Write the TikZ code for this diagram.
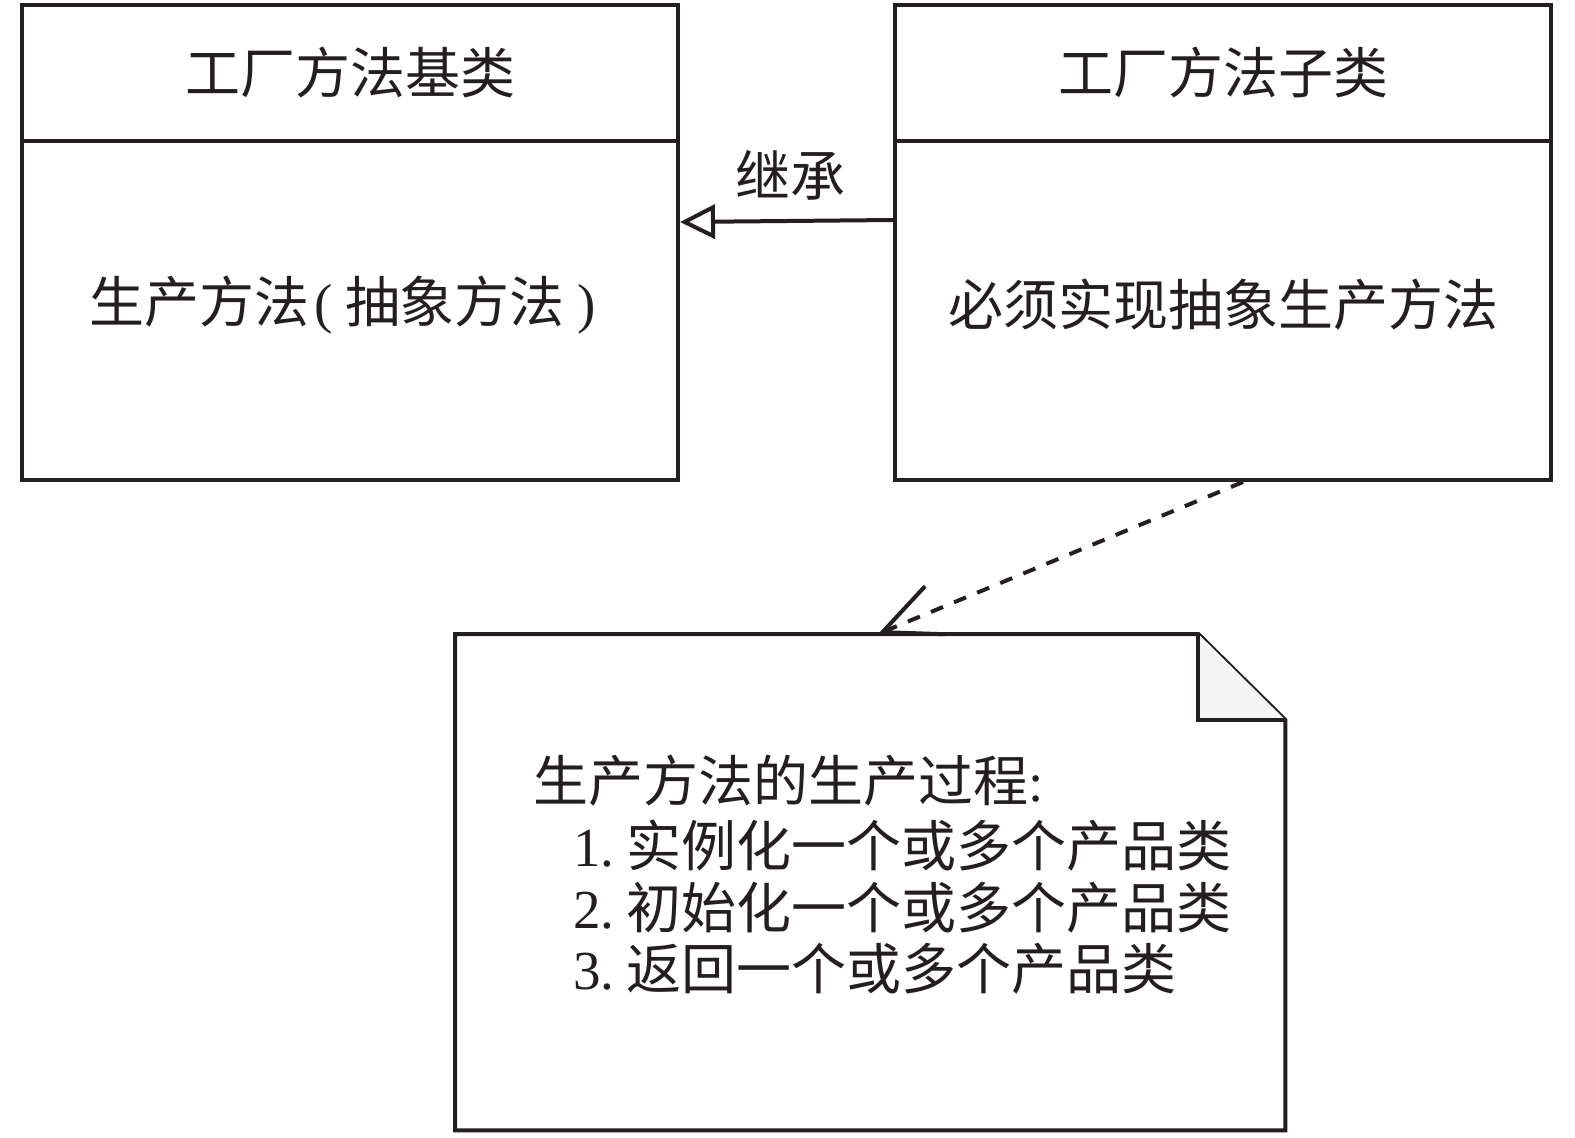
\documentclass[tikz,border=0pt]{standalone}
\usepackage{fontspec}
\setmainfont{Liberation Serif}
\newfontfamily\cjk{Noto Sans CJK SC}
\usetikzlibrary{arrows.meta,calc}
\definecolor{inkc}{HTML}{231F20}
\begin{document}
\begin{tikzpicture}[x=1pt,y=-1pt,
  ln/.style={draw=inkc,line width=4pt},
  box/.style={ln, fill=white, minimum width=656pt, minimum height=475pt, anchor=north west, inner sep=0pt},
  txt/.style={font=\cjk\fontsize{55}{62}\selectfont, text=inkc, inner sep=0pt},
]
\useasboundingbox[fill=white] (0,0) rectangle (1575,1138);
% class boxes
\node[box] (lb) at (20,3) {};
\node[box] (rb) at (893,3) {};
\draw[ln] ($(lb.north west)+(0,138)$) -- ($(lb.north east)+(0,138)$);
\draw[ln] ($(rb.north west)+(0,138)$) -- ($(rb.north east)+(0,138)$);
\node[txt] (lt) at ($(lb.north)+(0,69)$) {工厂方法基类};
\node[txt] (rt) at ($(rb.north)+(0,69)$) {工厂方法子类};
\node[txt] (lm) at ($(lb.north)+(-5,302)$) {生产方法{\rmfamily\kern0.1em(\kern0.22em}抽象方法{\rmfamily\kern0.22em)\kern0.1em}};
\node[txt] (rm) at ($(rb.north)+(0,302)$) {必须实现抽象生产方法};
% inheritance
\draw[ln, -{Triangle[open, length=35pt, width=34pt]}] ($(rb.north west)+(0,217)$) -- ($(lb.north east)+(0,219)$);
\node[txt] (inh) at ($(rb.north west)!0.5!(lb.north east)+(4,172)$) {继承};
% note
\node[anchor=north west, minimum width=830pt, minimum height=496pt, inner sep=0pt] (nt) at (455,634) {};
\draw[ln, fill=white] (nt.north west) -- ($(nt.north east)+(-87,0)$) -- ($(nt.north east)+(0,86)$) -- (nt.south east) -- (nt.south west) -- cycle;
\filldraw[ln, fill=gray!8] ($(nt.north east)+(-87,0)$) -- ($(nt.north east)+(-87,86)$) -- ($(nt.north east)+(0,86)$);
\draw[ln, dash pattern=on 13pt off 12pt, -{Straight Barb[length=57pt, width=52pt]}] ($(rb.south)+(20,0)$) -- ($(nt.north west)+(423,0)$);
\node[txt, anchor=base west] (n1) at (533,801) {生产方法的生产过程{\rmfamily :}};
\node[txt, anchor=base west] (n2) at (573,866) {{\rmfamily 1.\kern0.22em}实例化一个或多个产品类};
\node[txt, anchor=base west] (n3) at (573,928) {{\rmfamily 2.\kern0.22em}初始化一个或多个产品类};
\node[txt, anchor=base west] (n4) at (573,989) {{\rmfamily 3.\kern0.22em}返回一个或多个产品类};
\end{tikzpicture}
\end{document}
